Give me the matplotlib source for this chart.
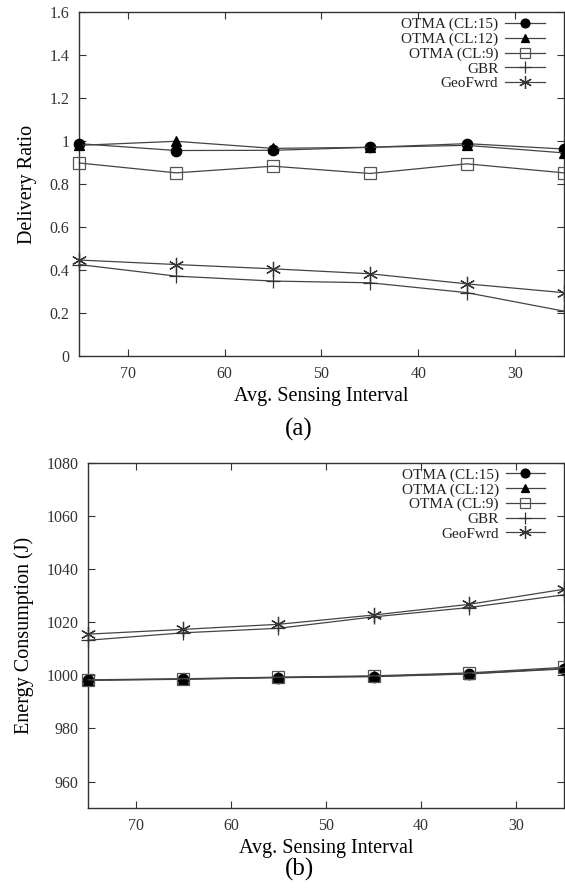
import matplotlib
matplotlib.use("Agg")
import matplotlib.pyplot as plt
from matplotlib.ticker import FuncFormatter

# data
interval = [75, 65, 55, 45, 35, 25]

series_names = ["OTMA (CL:15)", "OTMA (CL:12)", "OTMA (CL:9)", "GBR", "GeoFwrd"]

# (a) delivery ratio
ratio_cl15 = [0.989, 0.957, 0.958, 0.972, 0.989, 0.964]
ratio_cl12 = [0.981, 1.000, 0.967, 0.972, 0.981, 0.946]
ratio_cl9 = [0.899, 0.853, 0.884, 0.850, 0.895, 0.853]
ratio_gbr = [0.426, 0.372, 0.349, 0.341, 0.295, 0.209]
ratio_geo = [0.447, 0.426, 0.406, 0.383, 0.336, 0.295]

# (b) energy consumption
energy_cl15 = [998.1, 998.5, 999.1, 999.5, 1000.5, 1002.4]
energy_cl12 = [998.2, 998.6, 999.2, 999.6, 1000.6, 1002.6]
energy_cl9 = [998.3, 998.7, 999.3, 999.8, 1000.9, 1003.0]
energy_gbr = [1013.2, 1016.0, 1017.7, 1022.0, 1025.5, 1030.3]
energy_geo = [1015.5, 1017.3, 1019.2, 1022.7, 1026.7, 1032.4]

plt.rcParams["font.family"] = ["Liberation Serif", "DejaVu Serif"]

styles = [
    dict(marker="o", markersize=7.5, markerfacecolor="black", markeredgecolor="black"),
    dict(marker="^", markersize=7, markerfacecolor="black", markeredgecolor="black"),
    dict(marker="s", markersize=8, markerfacecolor="none", markeredgecolor="#555555"),
    dict(marker="+", markersize=10, markeredgecolor="#333333"),
    dict(marker=(6, 2, 0), markersize=11, markeredgecolor="#333333"),
]


def draw(ax, series, ylim, yticks, ylabel):
    for name, ys, st in zip(series_names, series, styles):
        ax.plot(interval, ys, color="#444444", linewidth=0.9,
                markeredgewidth=0.9, label=name, clip_on=False, zorder=3, **st)
    ax.set_xlim(75, 25)
    ax.set_ylim(*ylim)
    ax.set_xticks([70, 60, 50, 40, 30])
    ax.set_yticks(yticks)
    ax.yaxis.set_major_formatter(FuncFormatter(lambda v, p: "%g" % round(v, 3)))
    ax.tick_params(direction="in", top=True, right=True, length=5, width=0.8,
                   labelsize=11.5, pad=7, colors="#333333")
    for s in ax.spines.values():
        s.set_linewidth(1.0)
        s.set_color("#333333")
    ax.set_xlabel("Avg. Sensing Interval", fontsize=14.5, labelpad=4)
    ax.set_ylabel(ylabel, fontsize=14.5, labelpad=9)
    leg = ax.legend(loc="upper right", bbox_to_anchor=(0.961, 0.985),
                    frameon=False, markerfirst=False, fontsize=11,
                    handlelength=2.6, handletextpad=0.45, labelspacing=0.06,
                    borderaxespad=0, borderpad=0, markerscale=0.85)
    for t in leg.get_texts():
        t.set_color("#222222")


fig = plt.figure(figsize=(5.65, 8.9), dpi=100)

ax1 = fig.add_axes([0.140, 0.600, 0.858, 0.386])
draw(ax1, [ratio_cl15, ratio_cl12, ratio_cl9, ratio_gbr, ratio_geo],
     (0, 1.6), [0, 0.2, 0.4, 0.6, 0.8, 1.0, 1.2, 1.4, 1.6], "Delivery Ratio")

ax2 = fig.add_axes([0.156, 0.092, 0.842, 0.388])
draw(ax2, [energy_cl15, energy_cl12, energy_cl9, energy_gbr, energy_geo],
     (950, 1080), [960, 980, 1000, 1020, 1040, 1060, 1080], "Energy Consumption (J)")

fig.text(299 / 565, 1 - 429 / 890, "(a)", ha="center", va="center", fontsize=18)
fig.text(299 / 565, 1 - 869 / 890, "(b)", ha="center", va="center", fontsize=18)

fig.savefig("out.png", dpi=100)
